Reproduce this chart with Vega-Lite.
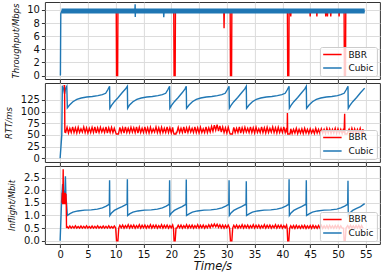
{
"$schema":"https://vega.github.io/schema/vega-lite/v6.json",
"padding":{"left":3.9,"top":1,"right":0,"bottom":0},
"spacing":4,
"bounds":"flush",
"datasets":{
"thrB":[{"t":0.6,"v":9.7},{"t":10.1,"v":9.7},{"t":10.15,"v":0},{"t":10.35,"v":0},{"t":10.4,"v":9.7},{"t":20.45,"v":9.7},{"t":20.5,"v":0},{"t":20.7,"v":0},{"t":20.75,"v":9.7},{"t":29.45,"v":9.7},{"t":29.5,"v":7.2},{"t":29.55,"v":9.7},{"t":30.6,"v":9.7},{"t":30.65,"v":0},{"t":30.85,"v":0},{"t":30.9,"v":9.7},{"t":40.9,"v":9.7},{"t":40.95,"v":0},{"t":41.15,"v":0},{"t":41.2,"v":9.7},{"t":41.45,"v":9.7},{"t":41.5,"v":9.0},{"t":41.55,"v":9.7},{"t":44.95,"v":9.7},{"t":45.0,"v":9.0},{"t":45.05,"v":9.7},{"t":46.15,"v":9.7},{"t":46.2,"v":9.0},{"t":46.25,"v":9.7},{"t":47.75,"v":9.7},{"t":47.8,"v":9.0},{"t":47.85,"v":9.7},{"t":48.05,"v":9.7},{"t":48.1,"v":9.0},{"t":48.15,"v":9.7},{"t":48.65,"v":9.7},{"t":48.7,"v":9.0},{"t":48.75,"v":9.7},{"t":50.15,"v":9.7},{"t":50.2,"v":9.0},{"t":50.25,"v":9.7},{"t":51.1,"v":9.7},{"t":51.15,"v":0},{"t":51.35,"v":0},{"t":51.4,"v":9.7},{"t":54.6,"v":9.7}],
"thrC":[{"t":0,"v":0},{"t":0.05,"v":0.1},{"t":0.12,"v":9.4},{"t":0.2,"v":9.6},{"t":0.3,"v":9.8},{"t":13.45,"v":9.8},{"t":13.5,"v":10.85},{"t":13.52,"v":8.9},{"t":13.55,"v":9.8},{"t":18.6,"v":9.8},{"t":18.65,"v":8.9},{"t":18.7,"v":9.8},{"t":54.8,"v":9.8}],
"thrBand":[{"t":0.25,"v":9.82},{"t":54.8,"v":9.82}],
"rttC":[{"t":0,"v":0},{"t":0.3,"v":50},{"t":0.4,"v":155},{"t":0.6,"v":150},{"t":0.8,"v":138},{"t":1.0,"v":150},{"t":1.2,"v":154},{"t":1.3,"v":108},
{"t":1.7,"v":114},{"t":2.3,"v":121},{"t":3.0,"v":126},{"t":3.8,"v":129},{"t":4.8,"v":131},{"t":5.8,"v":132},{"t":6.8,"v":134},{"t":7.6,"v":136},{"t":8.2,"v":139},{"t":8.55,"v":146},{"t":8.9,"v":154},{"t":8.95,"v":107},
{"t":9.25,"v":113},{"t":9.75,"v":121},{"t":10.45,"v":130},{"t":11.15,"v":140},{"t":11.75,"v":148},{"t":12.1,"v":154},{"t":12.15,"v":107},
{"t":12.5,"v":114},{"t":13.1,"v":121},{"t":13.8,"v":126},{"t":14.6,"v":129},{"t":15.6,"v":131},{"t":16.6,"v":132},{"t":17.6,"v":134},{"t":18.4,"v":136},{"t":19.0,"v":139},{"t":19.35,"v":146},{"t":19.7,"v":154},{"t":19.75,"v":107},
{"t":20.05,"v":113},{"t":20.55,"v":121},{"t":21.25,"v":130},{"t":21.95,"v":140},{"t":22.45,"v":148},{"t":22.7,"v":154},{"t":22.75,"v":107},
{"t":23.2,"v":114},{"t":23.8,"v":121},{"t":24.5,"v":126},{"t":25.3,"v":129},{"t":26.3,"v":131},{"t":27.3,"v":132},{"t":28.3,"v":134},{"t":29.1,"v":136},{"t":29.7,"v":139},{"t":30.05,"v":146},{"t":30.4,"v":154},{"t":30.45,"v":107},
{"t":30.75,"v":113},{"t":31.25,"v":121},{"t":31.95,"v":130},{"t":32.65,"v":140},{"t":33.2,"v":148},{"t":33.5,"v":154},{"t":33.55,"v":107},
{"t":34.0,"v":114},{"t":34.6,"v":121},{"t":35.3,"v":126},{"t":36.1,"v":129},{"t":37.1,"v":131},{"t":38.1,"v":132},{"t":39.1,"v":134},{"t":39.9,"v":136},{"t":40.5,"v":139},{"t":40.85,"v":146},{"t":41.2,"v":154},{"t":41.25,"v":107},
{"t":41.55,"v":113},{"t":42.05,"v":121},{"t":42.75,"v":130},{"t":43.45,"v":140},{"t":44.0,"v":148},{"t":44.3,"v":154},{"t":44.35,"v":107},
{"t":44.8,"v":114},{"t":45.4,"v":121},{"t":46.1,"v":126},{"t":46.9,"v":129},{"t":47.9,"v":131},{"t":48.9,"v":132},{"t":49.9,"v":134},{"t":50.5,"v":136},{"t":51.1,"v":139},{"t":51.45,"v":146},{"t":51.8,"v":154},{"t":51.85,"v":107},
{"t":52.15,"v":113},{"t":52.65,"v":121},{"t":53.35,"v":130},{"t":54.05,"v":140},{"t":54.8,"v":150}],
"rttB":[{"t":0.6,"v":155},{"t":0.8,"v":155},{"t":0.85,"v":56},
{"t":1.0,"v":55},{"t":1.25,"v":66},{"t":1.5,"v":54},{"t":1.75,"v":64},{"t":2.0,"v":55},{"t":2.25,"v":67},{"t":2.5,"v":55},{"t":2.75,"v":65},{"t":3.0,"v":54},{"t":3.25,"v":66},{"t":3.5,"v":55},{"t":3.75,"v":63},{"t":4.0,"v":56},{"t":4.25,"v":67},{"t":4.5,"v":55},{"t":4.75,"v":65},{"t":5.0,"v":54},{"t":5.25,"v":64},{"t":5.5,"v":55},{"t":5.75,"v":66},{"t":6.0,"v":55},{"t":6.25,"v":67},{"t":6.5,"v":54},{"t":6.75,"v":65},{"t":7.0,"v":55},{"t":7.25,"v":66},{"t":7.5,"v":56},{"t":7.75,"v":64},{"t":8.0,"v":55},{"t":8.25,"v":67},{"t":8.5,"v":54},{"t":8.75,"v":65},{"t":9.0,"v":55},{"t":9.25,"v":66},{"t":9.5,"v":55},{"t":9.75,"v":64},{"t":10.0,"v":55},
{"t":10.1,"v":52},{"t":10.5,"v":52},{"t":10.55,"v":55},
{"t":10.75,"v":66},{"t":11.0,"v":55},{"t":11.25,"v":65},{"t":11.5,"v":54},{"t":11.75,"v":67},{"t":12.0,"v":55},{"t":12.25,"v":64},{"t":12.5,"v":55},{"t":12.75,"v":66},{"t":13.0,"v":56},{"t":13.25,"v":65},{"t":13.5,"v":55},{"t":13.75,"v":67},{"t":14.0,"v":54},{"t":14.25,"v":66},{"t":14.5,"v":55},{"t":14.75,"v":64},{"t":15.0,"v":55},{"t":15.25,"v":67},{"t":15.5,"v":55},{"t":15.75,"v":65},{"t":16.0,"v":54},{"t":16.25,"v":66},{"t":16.5,"v":55},{"t":16.75,"v":63},{"t":17.0,"v":56},{"t":17.25,"v":67},{"t":17.5,"v":55},{"t":17.75,"v":65},{"t":18.0,"v":54},{"t":18.25,"v":66},{"t":18.5,"v":55},{"t":18.75,"v":64},{"t":19.0,"v":55},{"t":19.25,"v":67},{"t":19.5,"v":55},{"t":19.75,"v":65},{"t":20.0,"v":54},{"t":20.25,"v":66},{"t":20.4,"v":55},
{"t":20.5,"v":52},{"t":20.85,"v":52},{"t":20.9,"v":55},
{"t":21.0,"v":55},{"t":21.25,"v":66},{"t":21.5,"v":55},{"t":21.75,"v":64},{"t":22.0,"v":55},{"t":22.25,"v":67},{"t":22.5,"v":54},{"t":22.75,"v":65},{"t":23.0,"v":55},{"t":23.25,"v":66},{"t":23.5,"v":56},{"t":23.75,"v":64},{"t":24.0,"v":55},{"t":24.25,"v":67},{"t":24.5,"v":55},{"t":24.75,"v":65},{"t":25.0,"v":54},{"t":25.25,"v":66},{"t":25.5,"v":55},{"t":25.75,"v":63},{"t":26.0,"v":55},{"t":26.25,"v":67},{"t":26.5,"v":55},{"t":26.75,"v":65},{"t":27.0,"v":56},{"t":27.25,"v":68},{"t":27.5,"v":58},{"t":27.75,"v":71},{"t":28.0,"v":60},{"t":28.25,"v":72},{"t":28.5,"v":58},{"t":28.75,"v":69},{"t":29.0,"v":56},{"t":29.25,"v":67},{"t":29.5,"v":55},{"t":29.75,"v":65},{"t":30.0,"v":54},{"t":30.25,"v":66},{"t":30.5,"v":55},
{"t":30.6,"v":52},{"t":31.0,"v":52},{"t":31.05,"v":55},
{"t":31.25,"v":66},{"t":31.5,"v":55},{"t":31.75,"v":64},{"t":32.0,"v":55},{"t":32.25,"v":67},{"t":32.5,"v":54},{"t":32.75,"v":65},{"t":33.0,"v":55},{"t":33.25,"v":66},{"t":33.5,"v":56},{"t":33.75,"v":64},{"t":34.0,"v":55},{"t":34.25,"v":67},{"t":34.5,"v":55},{"t":34.75,"v":65},{"t":35.0,"v":54},{"t":35.25,"v":66},{"t":35.5,"v":55},{"t":35.75,"v":63},{"t":36.0,"v":55},{"t":36.25,"v":67},{"t":36.5,"v":55},{"t":36.75,"v":65},{"t":37.0,"v":54},{"t":37.25,"v":66},{"t":37.5,"v":55},{"t":37.75,"v":64},{"t":38.0,"v":56},{"t":38.25,"v":67},{"t":38.5,"v":55},{"t":38.75,"v":65},{"t":39.0,"v":54},{"t":39.25,"v":66},{"t":39.5,"v":55},{"t":39.75,"v":64},{"t":40.0,"v":55},{"t":40.25,"v":67},{"t":40.5,"v":55},{"t":40.75,"v":65},{"t":40.85,"v":55},
{"t":40.9,"v":97},{"t":40.95,"v":52},{"t":41.35,"v":52},{"t":41.4,"v":54},
{"t":41.5,"v":63},{"t":41.75,"v":53},{"t":42.0,"v":62},{"t":42.25,"v":54},{"t":42.5,"v":64},{"t":42.75,"v":53},{"t":43.0,"v":62},{"t":43.25,"v":54},{"t":43.5,"v":63},{"t":43.75,"v":53},{"t":44.0,"v":64},{"t":44.25,"v":54},{"t":44.5,"v":62},{"t":44.75,"v":53},{"t":45.0,"v":63},{"t":45.25,"v":54},{"t":45.5,"v":61},{"t":45.75,"v":53},{"t":46.0,"v":64},{"t":46.25,"v":54},{"t":46.5,"v":62},{"t":46.75,"v":53},{"t":47.0,"v":63},{"t":47.25,"v":54},{"t":47.5,"v":62},{"t":47.75,"v":53},{"t":48.0,"v":64},{"t":48.25,"v":54},{"t":48.5,"v":63},{"t":48.75,"v":53},{"t":49.0,"v":62},{"t":49.25,"v":54},{"t":49.5,"v":64},{"t":49.75,"v":53},{"t":50.0,"v":63},{"t":50.25,"v":54},{"t":50.5,"v":62},{"t":50.75,"v":53},{"t":51.0,"v":63},{"t":51.1,"v":54},
{"t":51.2,"v":95},{"t":51.25,"v":52},{"t":51.65,"v":52},{"t":51.7,"v":54},
{"t":52.0,"v":62},{"t":52.25,"v":53},{"t":52.5,"v":64},{"t":52.75,"v":54},{"t":53.0,"v":63},{"t":53.25,"v":53},{"t":53.5,"v":62},{"t":53.75,"v":54},{"t":54.0,"v":64},{"t":54.25,"v":53},{"t":54.5,"v":62},{"t":54.6,"v":54}],
"infC":[{"t":0,"v":0},{"t":0.25,"v":1.5},{"t":0.35,"v":1.9},{"t":0.45,"v":2.25},{"t":0.5,"v":1.7},{"t":0.6,"v":2.0},{"t":0.7,"v":1.6},{"t":0.85,"v":1.9},{"t":0.95,"v":2.55},{"t":1.05,"v":1.7},{"t":1.15,"v":1.5},{"t":1.3,"v":1.0},
{"t":1.7,"v":1.06},{"t":2.3,"v":1.13},{"t":3.2,"v":1.18},{"t":4.4,"v":1.21},{"t":5.6,"v":1.22},{"t":6.7,"v":1.25},{"t":7.6,"v":1.3},{"t":8.3,"v":1.37},{"t":8.65,"v":1.42},{"t":8.85,"v":1.45},{"t":8.9,"v":2.4},{"t":8.95,"v":1.0},
{"t":9.25,"v":1.1},{"t":9.75,"v":1.2},{"t":10.45,"v":1.28},{"t":11.15,"v":1.35},{"t":11.75,"v":1.42},{"t":12.05,"v":1.45},{"t":12.1,"v":2.43},{"t":12.15,"v":1.0},
{"t":12.5,"v":1.06},{"t":13.1,"v":1.13},{"t":14.0,"v":1.18},{"t":15.2,"v":1.21},{"t":16.4,"v":1.22},{"t":17.5,"v":1.25},{"t":18.4,"v":1.3},{"t":19.1,"v":1.37},{"t":19.45,"v":1.42},{"t":19.65,"v":1.45},{"t":19.7,"v":2.4},{"t":19.75,"v":1.0},
{"t":20.05,"v":1.1},{"t":20.55,"v":1.2},{"t":21.25,"v":1.28},{"t":21.95,"v":1.35},{"t":22.45,"v":1.42},{"t":22.65,"v":1.45},{"t":22.7,"v":2.42},{"t":22.75,"v":1.0},
{"t":23.2,"v":1.06},{"t":23.8,"v":1.13},{"t":24.7,"v":1.18},{"t":25.9,"v":1.21},{"t":27.1,"v":1.22},{"t":28.2,"v":1.25},{"t":29.1,"v":1.3},{"t":29.8,"v":1.37},{"t":30.15,"v":1.42},{"t":30.35,"v":1.45},{"t":30.4,"v":2.4},{"t":30.45,"v":1.0},
{"t":30.75,"v":1.1},{"t":31.25,"v":1.2},{"t":31.95,"v":1.28},{"t":32.65,"v":1.35},{"t":33.2,"v":1.42},{"t":33.45,"v":1.45},{"t":33.5,"v":2.36},{"t":33.55,"v":1.0},
{"t":34.0,"v":1.06},{"t":34.6,"v":1.13},{"t":35.5,"v":1.18},{"t":36.7,"v":1.21},{"t":37.9,"v":1.22},{"t":39.0,"v":1.25},{"t":39.9,"v":1.3},{"t":40.6,"v":1.37},{"t":40.95,"v":1.42},{"t":41.15,"v":1.45},{"t":41.2,"v":2.43},{"t":41.25,"v":1.0},
{"t":41.55,"v":1.1},{"t":42.05,"v":1.2},{"t":42.75,"v":1.28},{"t":43.45,"v":1.35},{"t":44.0,"v":1.42},{"t":44.25,"v":1.45},{"t":44.3,"v":2.4},{"t":44.35,"v":1.0},
{"t":44.8,"v":1.06},{"t":45.4,"v":1.13},{"t":46.3,"v":1.18},{"t":47.5,"v":1.21},{"t":48.7,"v":1.22},{"t":49.8,"v":1.25},{"t":50.5,"v":1.3},{"t":51.2,"v":1.37},{"t":51.55,"v":1.42},{"t":51.75,"v":1.45},{"t":51.8,"v":2.38},{"t":51.85,"v":1.0},
{"t":52.15,"v":1.1},{"t":52.65,"v":1.2},{"t":53.35,"v":1.28},{"t":54.05,"v":1.35},{"t":54.8,"v":1.47}],
"infB":[{"t":0.35,"v":1.5},{"t":0.4,"v":1.9},{"t":0.45,"v":1.45},{"t":0.5,"v":1.9},{"t":0.55,"v":2.83},{"t":0.6,"v":1.5},{"t":0.65,"v":1.9},{"t":0.7,"v":1.45},{"t":0.75,"v":1.9},{"t":0.8,"v":1.45},{"t":0.85,"v":1.9},{"t":0.9,"v":1.45},{"t":0.95,"v":1.9},{"t":1.0,"v":1.45},{"t":1.05,"v":1.85},{"t":1.1,"v":1.5},{"t":1.15,"v":0.5},
{"t":1.25,"v":0.56},{"t":1.5,"v":0.5},{"t":1.75,"v":0.58},{"t":2.0,"v":0.5},{"t":2.25,"v":0.57},{"t":2.5,"v":0.5},{"t":2.75,"v":0.59},{"t":3.0,"v":0.5},{"t":3.25,"v":0.56},{"t":3.5,"v":0.5},{"t":3.75,"v":0.58},{"t":4.0,"v":0.5},{"t":4.25,"v":0.57},{"t":4.5,"v":0.5},{"t":4.75,"v":0.59},{"t":5.0,"v":0.5},{"t":5.25,"v":0.56},{"t":5.5,"v":0.5},{"t":5.75,"v":0.58},{"t":6.0,"v":0.5},{"t":6.25,"v":0.57},{"t":6.5,"v":0.5},{"t":6.75,"v":0.59},{"t":7.0,"v":0.5},{"t":7.25,"v":0.56},{"t":7.5,"v":0.5},{"t":7.75,"v":0.58},{"t":8.0,"v":0.5},{"t":8.25,"v":0.57},{"t":8.5,"v":0.5},{"t":8.75,"v":0.59},{"t":9.0,"v":0.5},{"t":9.25,"v":0.56},{"t":9.5,"v":0.5},{"t":9.75,"v":0.58},{"t":10.0,"v":0.5},
{"t":10.15,"v":0},{"t":10.4,"v":0},{"t":10.55,"v":0.5},
{"t":10.75,"v":0.61},{"t":11.0,"v":0.51},{"t":11.25,"v":0.62},{"t":11.5,"v":0.5},{"t":11.75,"v":0.6},{"t":12.0,"v":0.51},{"t":12.25,"v":0.63},{"t":12.5,"v":0.5},{"t":12.75,"v":0.61},{"t":13.0,"v":0.51},{"t":13.25,"v":0.62},{"t":13.5,"v":0.5},{"t":13.75,"v":0.6},{"t":14.0,"v":0.51},{"t":14.25,"v":0.63},{"t":14.5,"v":0.5},{"t":14.75,"v":0.61},{"t":15.0,"v":0.51},{"t":15.25,"v":0.62},{"t":15.5,"v":0.5},{"t":15.75,"v":0.6},{"t":16.0,"v":0.51},{"t":16.25,"v":0.63},{"t":16.5,"v":0.5},{"t":16.75,"v":0.61},{"t":17.0,"v":0.51},{"t":17.25,"v":0.62},{"t":17.5,"v":0.5},{"t":17.75,"v":0.6},{"t":18.0,"v":0.51},{"t":18.25,"v":0.63},{"t":18.5,"v":0.5},{"t":18.75,"v":0.61},{"t":19.0,"v":0.51},{"t":19.25,"v":0.62},{"t":19.5,"v":0.5},{"t":19.75,"v":0.6},{"t":20.0,"v":0.51},{"t":20.25,"v":0.62},{"t":20.4,"v":0.5},
{"t":20.5,"v":0},{"t":20.7,"v":0},{"t":20.85,"v":0.5},
{"t":21.0,"v":0.5},{"t":21.25,"v":0.61},{"t":21.5,"v":0.51},{"t":21.75,"v":0.62},{"t":22.0,"v":0.5},{"t":22.25,"v":0.6},{"t":22.5,"v":0.51},{"t":22.75,"v":0.63},{"t":23.0,"v":0.5},{"t":23.25,"v":0.61},{"t":23.5,"v":0.51},{"t":23.75,"v":0.62},{"t":24.0,"v":0.5},{"t":24.25,"v":0.6},{"t":24.5,"v":0.51},{"t":24.75,"v":0.63},{"t":25.0,"v":0.5},{"t":25.25,"v":0.61},{"t":25.5,"v":0.51},{"t":25.75,"v":0.62},{"t":26.0,"v":0.5},{"t":26.25,"v":0.6},{"t":26.5,"v":0.51},{"t":26.75,"v":0.63},{"t":27.0,"v":0.52},{"t":27.25,"v":0.64},{"t":27.5,"v":0.55},{"t":27.75,"v":0.66},{"t":28.0,"v":0.55},{"t":28.25,"v":0.65},{"t":28.5,"v":0.53},{"t":28.75,"v":0.63},{"t":29.0,"v":0.51},{"t":29.25,"v":0.62},{"t":29.5,"v":0.5},{"t":29.75,"v":0.61},{"t":30.0,"v":0.51},{"t":30.25,"v":0.62},{"t":30.5,"v":0.5},
{"t":30.65,"v":0},{"t":30.9,"v":0},{"t":31.05,"v":0.5},
{"t":31.25,"v":0.61},{"t":31.5,"v":0.51},{"t":31.75,"v":0.62},{"t":32.0,"v":0.5},{"t":32.25,"v":0.6},{"t":32.5,"v":0.51},{"t":32.75,"v":0.63},{"t":33.0,"v":0.5},{"t":33.25,"v":0.61},{"t":33.5,"v":0.51},{"t":33.75,"v":0.62},{"t":34.0,"v":0.5},{"t":34.25,"v":0.6},{"t":34.5,"v":0.51},{"t":34.75,"v":0.63},{"t":35.0,"v":0.5},{"t":35.25,"v":0.61},{"t":35.5,"v":0.51},{"t":35.75,"v":0.62},{"t":36.0,"v":0.5},{"t":36.25,"v":0.6},{"t":36.5,"v":0.51},{"t":36.75,"v":0.63},{"t":37.0,"v":0.5},{"t":37.25,"v":0.61},{"t":37.5,"v":0.51},{"t":37.75,"v":0.62},{"t":38.0,"v":0.5},{"t":38.25,"v":0.6},{"t":38.5,"v":0.51},{"t":38.75,"v":0.63},{"t":39.0,"v":0.5},{"t":39.25,"v":0.61},{"t":39.5,"v":0.51},{"t":39.75,"v":0.62},{"t":40.0,"v":0.5},{"t":40.25,"v":0.6},{"t":40.5,"v":0.51},{"t":40.75,"v":0.62},{"t":40.85,"v":0.5},
{"t":40.95,"v":0},{"t":41.15,"v":0},{"t":41.3,"v":0.5},
{"t":41.5,"v":0.59},{"t":41.75,"v":0.5},{"t":42.0,"v":0.6},{"t":42.25,"v":0.49},{"t":42.5,"v":0.61},{"t":42.75,"v":0.5},{"t":43.0,"v":0.59},{"t":43.25,"v":0.49},{"t":43.5,"v":0.6},{"t":43.75,"v":0.5},{"t":44.0,"v":0.61},{"t":44.25,"v":0.49},{"t":44.5,"v":0.59},{"t":44.75,"v":0.5},{"t":45.0,"v":0.6},{"t":45.25,"v":0.49},{"t":45.5,"v":0.61},{"t":45.75,"v":0.5},{"t":46.0,"v":0.59},{"t":46.25,"v":0.49},{"t":46.5,"v":0.6},{"t":46.75,"v":0.5},{"t":47.0,"v":0.61},{"t":47.25,"v":0.49},{"t":47.5,"v":0.59},{"t":47.75,"v":0.5},{"t":48.0,"v":0.6},{"t":48.25,"v":0.49},{"t":48.5,"v":0.61},{"t":48.75,"v":0.5},{"t":49.0,"v":0.59},{"t":49.25,"v":0.49},{"t":49.5,"v":0.6},{"t":49.75,"v":0.5},{"t":50.0,"v":0.61},{"t":50.25,"v":0.49},{"t":50.5,"v":0.59},{"t":50.75,"v":0.5},{"t":51.0,"v":0.5},
{"t":51.1,"v":0},{"t":51.3,"v":0},{"t":51.45,"v":0.5},
{"t":51.75,"v":0.6},{"t":52.0,"v":0.49},{"t":52.25,"v":0.61},{"t":52.5,"v":0.5},{"t":52.75,"v":0.59},{"t":53.0,"v":0.49},{"t":53.25,"v":0.6},{"t":53.5,"v":0.5},{"t":53.75,"v":0.61},{"t":54.0,"v":0.49},{"t":54.25,"v":0.6},{"t":54.5,"v":0.5}]
},
"vconcat":[
{"width":335,"height":77,
 "encoding":{
  "x":{"field":"t","type":"quantitative","scale":{"domain":[-2.74,57.54],"nice":false,"zero":false},"axis":{"values":[0,5,10,15,20,25,30,35,40,45,50,55],"labels":false,"title":null}},
  "y":{"field":"v","type":"quantitative","scale":{"domain":[-0.53,11.2],"nice":false,"zero":false},"axis":{"values":[0,2,4,6,8,10],"title":"Throughput/Mbps"}}
 },
 "layer":[
  {"data":{"name":"thrB"},"mark":{"type":"line","strokeWidth":1.4,"clip":true},"encoding":{"color":{"datum":"BBR","type":"nominal","scale":{"domain":["BBR","Cubic"],"range":["#ff0000","#1f77b4"]},"legend":{"title":null}}}},
  {"data":{"name":"thrBand"},"mark":{"type":"line","strokeWidth":4.9,"color":"#1f77b4","strokeCap":"butt","clip":true},"encoding":{}},
  {"data":{"name":"thrC"},"mark":{"type":"line","strokeWidth":1.4,"clip":true},"encoding":{"color":{"datum":"Cubic","type":"nominal","legend":{"title":null}}}}
 ]},
{"width":335,"height":79,
 "encoding":{
  "x":{"field":"t","type":"quantitative","scale":{"domain":[-2.74,57.54],"nice":false,"zero":false},"axis":{"values":[0,5,10,15,20,25,30,35,40,45,50,55],"labels":false,"title":null}},
  "y":{"field":"v","type":"quantitative","scale":{"domain":[-8,161],"nice":false,"zero":false},"axis":{"values":[0,25,50,75,100,125],"title":"RTT/ms"}}
 },
 "layer":[
  {"data":{"name":"rttC"},"mark":{"type":"line","strokeWidth":1.4,"clip":true},"encoding":{"color":{"datum":"Cubic","type":"nominal","scale":{"domain":["BBR","Cubic"],"range":["#ff0000","#1f77b4"]},"legend":{"title":null}}}},
  {"data":{"name":"rttB"},"mark":{"type":"line","strokeWidth":1.4,"clip":true},"encoding":{"color":{"datum":"BBR","type":"nominal","legend":{"title":null}}}}
 ]},
{"width":335,"height":78,
 "encoding":{
  "x":{"field":"t","type":"quantitative","scale":{"domain":[-2.74,57.54],"nice":false,"zero":false},"axis":{"values":[0,5,10,15,20,25,30,35,40,45,50,55],"title":"Time/s","titleFontSize":11.5,"titlePadding":1}},
  "y":{"field":"v","type":"quantitative","scale":{"domain":[-0.13,2.96],"nice":false,"zero":false},"axis":{"values":[0,0.5,1,1.5,2,2.5],"format":".1f","title":"Inflight/Mbit"}}
 },
 "layer":[
  {"data":{"name":"infC"},"mark":{"type":"line","strokeWidth":1.4,"clip":true},"encoding":{"color":{"datum":"Cubic","type":"nominal","scale":{"domain":["BBR","Cubic"],"range":["#ff0000","#1f77b4"]},"legend":{"title":null}}}},
  {"data":{"name":"infB"},"mark":{"type":"line","strokeWidth":1.4,"clip":true},"encoding":{"color":{"datum":"BBR","type":"nominal","legend":{"title":null}}}}
 ]}
],
"resolve":{"scale":{"color":"independent"}},
"config":{
 "view":{"stroke":"#333333","strokeWidth":1},
 "axis":{"domain":false,"grid":true,"gridColor":"#dcdcdc","gridWidth":1,"tickColor":"#333333","tickSize":3.5,"tickWidth":1,"labelFont":"DejaVu Sans","labelFontSize":10,"labelColor":"#111111","labelPadding":2,"labelOverlap":false,"labelFlush":false,"titleFont":"DejaVu Sans","titleFontStyle":"italic","titleFontWeight":"normal","titleColor":"#111111","titleFontSize":8.5,"titlePadding":6.5},
 "legend":{"orient":"bottom-right","offset":3,"symbolType":"stroke","symbolSize":340,"symbolStrokeWidth":1.5,"clipHeight":10,"labelFont":"DejaVu Sans","labelFontSize":9,"labelColor":"#111111","labelOffset":6,"fillColor":"rgba(255,255,255,0.8)","strokeColor":"#cccccc","cornerRadius":2,"padding":2.5,"rowPadding":3.5}
}
}
